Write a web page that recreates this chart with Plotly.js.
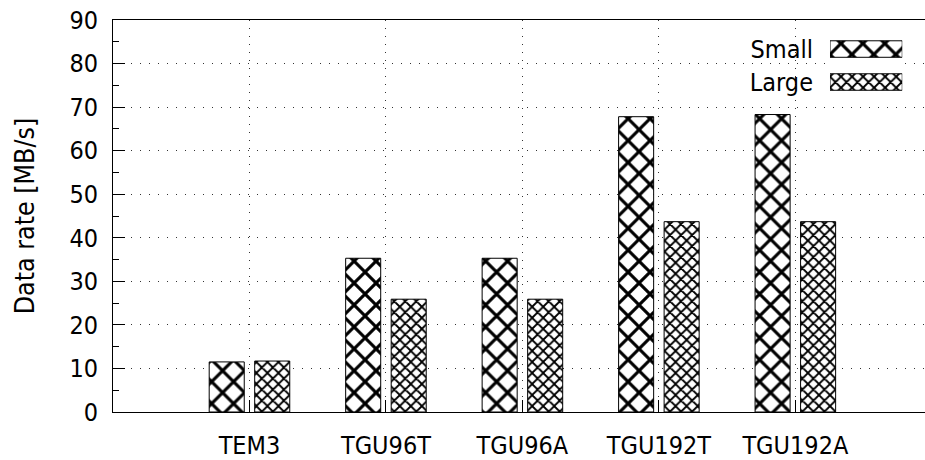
<!DOCTYPE html>
<html>
<head>
<meta charset="utf-8">
<script src="https://cdn.plot.ly/plotly-3.0.1.min.js"></script>
<style>html,body{margin:0;padding:0;background:#fff;}#chart{width:925px;height:460px;}</style>
</head>
<body>
<div id="chart"></div>
<script>
var categories = ['TEM3', 'TGU96T', 'TGU96A', 'TGU192T', 'TGU192A'];
var smallRate = [11.5, 35.3, 35.3, 67.8, 68.3];
var largeRate = [11.7, 25.9, 25.9, 43.7, 43.7];
var seriesNames = ['Small', 'Large'];
var yTicks = [0, 10, 20, 30, 40, 50, 60, 70, 80, 90];

var FONT = 'DejaVu Sans Condensed, DejaVu Sans, sans-serif';
var smallPattern = {shape: 'x', size: 15.5, solidity: 0.36, fgcolor: '#000', bgcolor: '#fff', fillmode: 'replace'};
var largePattern = {shape: 'x', size: 7.8, solidity: 0.42, fgcolor: '#000', bgcolor: '#fff', fillmode: 'replace'};

var traces = [
  {type: 'bar', x: categories, y: smallRate, name: seriesNames[0],
   marker: {color: '#fff', line: {color: '#000', width: 1}, pattern: smallPattern},
   showlegend: false, hoverinfo: 'skip'},
  {type: 'bar', x: categories, y: largeRate, name: seriesNames[1],
   marker: {color: '#fff', line: {color: '#000', width: 1}, pattern: largePattern},
   showlegend: false, hoverinfo: 'skip'},
  // key swatches, drawn in a small inset so the text sits left of the sample like the reference
  {type: 'bar', orientation: 'h', y: seriesNames, x: [1, 1], width: 0.5,
   xaxis: 'x2', yaxis: 'y2',
   marker: {color: '#fff', line: {color: '#000', width: 1},
            pattern: {shape: 'x', size: [smallPattern.size, largePattern.size],
                      solidity: [smallPattern.solidity, largePattern.solidity],
                      fgcolor: '#000', bgcolor: '#fff', fillmode: 'replace'}},
   showlegend: false, hoverinfo: 'skip'}
];

var layout = {
  width: 925, height: 460,
  margin: {l: 113, r: 0, t: 20, b: 48, pad: 0},
  paper_bgcolor: '#fff', plot_bgcolor: '#fff',
  font: {family: FONT, size: 25, color: '#000'},
  barmode: 'group', bargap: 0.333, bargroupgap: 0.23,
  showlegend: false,
  xaxis: {
    type: 'category', range: [-1, 4.95],
    showline: true, linecolor: '#000', linewidth: 1, mirror: true,
    ticks: 'inside', ticklen: 12, tickcolor: '#000', tickwidth: 1,
    showgrid: true, gridcolor: '#333', gridwidth: 1, griddash: '1px,7px',
    zeroline: false,
    tickfont: {family: FONT, size: 25, color: '#000'},
    ticklabelstandoff: 11
  },
  yaxis: {
    range: [0, 90], tickvals: yTicks,
    showline: true, linecolor: '#000', linewidth: 1,
    ticks: 'inside', ticklen: 12, tickcolor: '#000', tickwidth: 1,
    minor: {dtick: 5, ticks: 'inside', ticklen: 6, tickcolor: '#000', showgrid: false},
    showgrid: true, gridcolor: '#333', gridwidth: 1, griddash: '1px,8px',
    zeroline: false,
    tickfont: {family: FONT, size: 25, color: '#000'},
    ticklabelstandoff: 9,
    title: {text: 'Data rate [MB/s]', font: {family: FONT, size: 26.5, color: '#000'}, standoff: 27}
  },
  xaxis2: {domain: [0.883, 0.972], anchor: 'y2', range: [0, 1],
           showgrid: false, zeroline: false, showline: false, showticklabels: false, ticks: ''},
  yaxis2: {domain: [0.7997, 0.968], anchor: 'x2', type: 'category', range: [1.5, -0.5],
           showgrid: false, zeroline: false, showline: false, ticks: '',
           tickfont: {family: FONT, size: 25, color: '#000'}, ticklabelstandoff: 16}
};

Plotly.newPlot('chart', traces, layout, {displayModeBar: false, staticPlot: true});
</script>
</body>
</html>
